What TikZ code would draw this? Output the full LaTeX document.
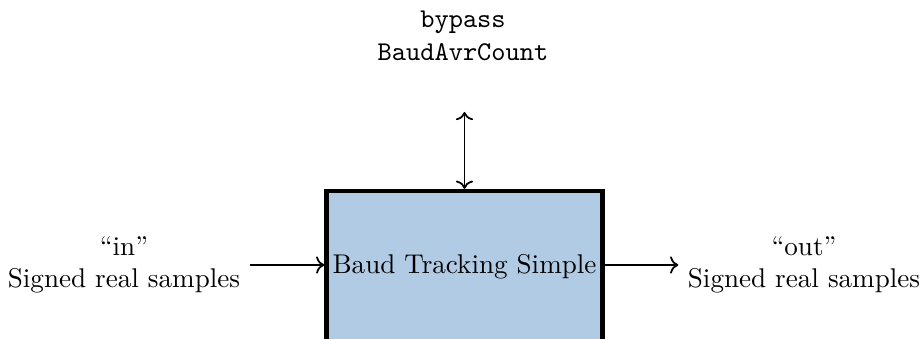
\documentclass[tikz,border=0pt]{standalone}
\usetikzlibrary{arrows.meta}
\definecolor{boxblue}{RGB}{177,203,228}
\begin{document}
\begin{tikzpicture}[x=0.369pt,y=-0.369pt,
  blockbox/.style={draw=black, line width=1.6pt, fill=boxblue, minimum width=276*0.369pt, minimum height=152*0.369pt, inner sep=0pt},
  lab/.style={align=center, inner sep=3.33pt},
  conn/.style={line width=0.65pt, ->}]
\useasboundingbox (0,0) rectangle (921,339);
\node[blockbox] (box) at (464.5,267) {Baud Tracking Simple};
\node[lab] (inlab) at (124,265) {“in”\\Signed real samples};
\node[lab] (outlab) at (804,265) {“out”\\Signed real samples};
\node[lab] (toplab) at (463,36) {\texttt{bypass}\\\texttt{BaudAvrCount}};
\coordinate (topend) at (464.5,112);
\draw[conn] (inlab.east) -- (inlab.east -| box.west);
\draw[conn] (box.east |- outlab.west) -- (outlab.west);
\draw[conn, <->] (topend) -- (topend |- box.north);
\end{tikzpicture}
\end{document}
